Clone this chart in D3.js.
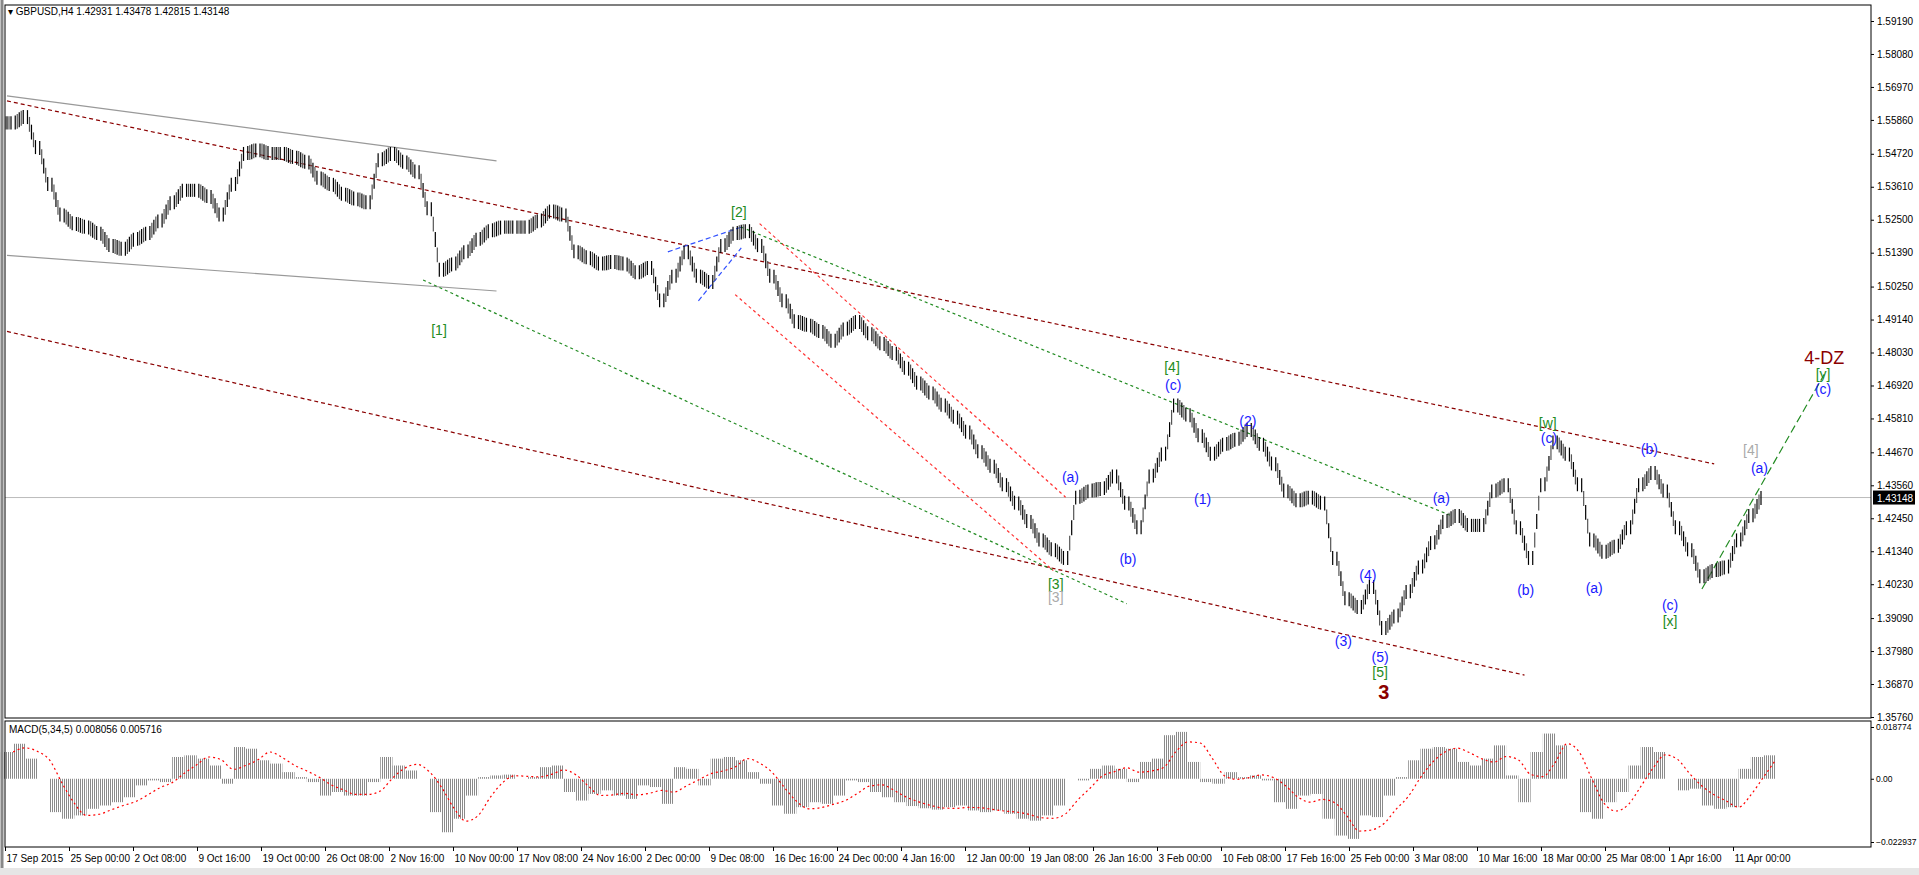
<!DOCTYPE html>
<meta charset="utf-8">
<style>
    body { margin: 0; background: #fff; }
    text { font-family: "Liberation Sans", Arial, sans-serif; }
    .axis text { font-size: 10px; fill: #000; font-family: "Liberation Sans", Arial, sans-serif; }
</style>
<body>
<script src="https://d3js.org/d3.v7.min.js"></script>
<script>
// GBPUSD H4 closes, one entry every ~6 H4 bars
var closes = [1.5576,1.5597,1.5493,1.5369,1.5266,1.5237,1.5225,1.5204,1.5163,1.5151,1.5184,1.5204,1.5246,1.5307,1.5349,1.5349,1.5328,1.5266,1.5369,1.5473,
    1.5485,1.5473,1.5473,1.5460,1.5444,1.5390,1.5369,1.5336,1.5320,1.5307,1.5452,1.5473,1.5444,1.5411,1.5287,1.5080,1.5101,1.5142,1.5184,1.5213,
    1.5225,1.5225,1.5225,1.5246,1.5279,1.5266,1.5142,1.5122,1.5101,1.5109,1.5101,1.5072,1.5089,1.4977,1.5060,1.5142,1.5060,1.5039,1.5163,1.5204,
    1.5213,1.5163,1.5060,1.4977,1.4907,1.4895,1.4874,1.4841,1.4882,1.4907,1.4866,1.4833,1.4800,1.4750,1.4700,1.4667,1.4626,1.4585,1.4535,1.4469,
    1.4420,1.4358,1.4296,1.4234,1.4172,1.4139,1.4110,1.4316,1.4337,1.4345,1.4387,1.4296,1.4213,1.4387,1.4461,1.4626,1.4593,1.4523,1.4461,1.4494,
    1.4511,1.4544,1.4494,1.4428,1.4337,1.4304,1.4316,1.4296,1.4110,1.3974,1.3945,1.4015,1.3874,1.3916,1.3998,1.4081,1.4163,1.4234,1.4254,1.4221,
    1.4221,1.4337,1.4358,1.4213,1.4110,1.4358,1.4502,1.4461,1.4358,1.4172,1.4131,1.4151,1.4213,1.4358,1.4399,1.4337,1.4213,1.4139,1.4048,1.4069,
    1.4081,1.4172,1.4254,1.4315];
var macd = [0.0097,0.0127,0.0073,0,-0.0121,-0.0145,-0.0133,-0.0109,-0.0097,-0.0085,-0.0067,-0.0024,-0.0006,-0.0012,0.0079,0.0085,0.0073,0.0048,-0.0018,0.0115,
    0.0109,0.0067,0.0055,0.0024,0.0006,-0.0012,-0.0061,-0.0048,-0.0061,-0.0061,-0.0012,0.0079,0.0048,0.0030,0,-0.0121,-0.0194,-0.0145,-0.0061,0.0006,
    0.0012,0.0015,0,0.0006,0.0042,0.0048,-0.0048,-0.0079,-0.0055,-0.0042,-0.0061,-0.0073,-0.0024,-0.0030,-0.0091,0.0042,0.0036,-0.0024,0.0073,0.0079,
    0.0067,0.0024,-0.0018,-0.0097,-0.0127,-0.0103,-0.0085,-0.0091,-0.0061,-0.0006,-0.0012,-0.0048,-0.0067,-0.0085,-0.0099,-0.0107,-0.0112,-0.0103,
    -0.0097,-0.0115,-0.0121,-0.0115,-0.0127,-0.0145,-0.0152,-0.0133,-0.0097,0,-0.0006,0.0036,0.0048,0.0036,-0.0012,0.0061,0.0073,0.0158,0.0170,0.0061,
    -0.0012,-0.0018,0.0024,0.0006,0.0012,-0.0006,-0.0085,-0.0109,-0.0061,-0.0055,-0.0145,-0.0206,-0.0218,-0.0133,-0.0139,-0.0061,0.0006,0.0067,0.0109,0.0115,
    0.0109,0.0061,0.0048,0.0073,0.0121,0.0012,-0.0085,0.0097,0.0164,0.0121,0,-0.0121,-0.0145,-0.0085,-0.0048,0.0048,0.0115,0.0097,0,-0.0042,
    -0.0036,-0.0097,-0.0109,-0.0103,0.0036,0.0079,0.0085];
var priceTicks = [1.59190,1.58080,1.56970,1.55860,1.54720,1.53610,1.52500,1.51390,1.50250,1.49140,1.48030,1.46920,1.45810,1.44670,1.43560,1.42450,1.41340,1.40230,1.39090,1.37980,1.36870,1.35760];
var timeLabels = ["17 Sep 2015","25 Sep 00:00","2 Oct 08:00","9 Oct 16:00","19 Oct 00:00","26 Oct 08:00","2 Nov 16:00","10 Nov 00:00","17 Nov 08:00","24 Nov 16:00","2 Dec 00:00","9 Dec 08:00","16 Dec 16:00","24 Dec 00:00","4 Jan 16:00","12 Jan 00:00","19 Jan 08:00","26 Jan 16:00","3 Feb 00:00","10 Feb 08:00","17 Feb 16:00","25 Feb 00:00","3 Mar 08:00","10 Mar 16:00","18 Mar 00:00","25 Mar 08:00","1 Apr 16:00","11 Apr 00:00"];
var lastPrice = 1.43148;
// trendlines: [i0, p0, i1, p1]
var lines = [
    { pts: [0, 1.5667, 40, 1.5448], color: "#999", dash: null },
    { pts: [0, 1.5130, 40, 1.5010], color: "#999", dash: null },
    { pts: [0, 1.5650, 139.5, 1.4428], color: "#8b0000", dash: "4,3" },
    { pts: [0, 1.4874, 124, 1.3717], color: "#8b0000", dash: "4,3" },
    { pts: [34, 1.5047, 91.5, 1.3957], color: "#228b22", dash: "3,3" },
    { pts: [60, 1.5225, 118, 1.4254], color: "#228b22", dash: "3,3" },
    { pts: [61.5, 1.5237, 86.5, 1.4316], color: "#ff3030", dash: "3,3" },
    { pts: [59.5, 1.4998, 85.5, 1.4069], color: "#ff3030", dash: "3,3" },
    { pts: [54, 1.5142, 60, 1.5225], color: "#3050ff", dash: "5,3" },
    { pts: [56.5, 1.4977, 60, 1.5155], color: "#3050ff", dash: "5,3" },
    { pts: [138.5, 1.4007, 148.5, 1.4730], color: "#228b22", dash: "8,4" }
];
// wave labels: [text, index, price, color, size]
var waves = [
    ["[1]", 35.3, 1.4874, "#228b22"], ["[2]", 59.8, 1.5270, "#228b22"], ["[3]", 85.7, 1.4019, "#228b22"], ["[3]", 85.7, 1.3974, "#aaa"],
    ["[4]", 95.2, 1.4750, "#228b22"], ["(c)", 95.3, 1.4688, "#1a1aff"], ["(a)", 86.9, 1.4378, "#1a1aff"], ["(b)", 91.6, 1.4102, "#1a1aff"],
    ["(1)", 97.7, 1.4304, "#1a1aff"], ["(2)", 101.4, 1.4568, "#1a1aff"], ["(3)", 109.2, 1.3829, "#1a1aff"], ["(4)", 111.2, 1.4048, "#1a1aff"],
    ["(5)", 112.2, 1.3775, "#1a1aff"], ["[5]", 112.2, 1.3722, "#228b22"], ["3", 112.5, 1.3656, "#8b0000", 20],
    ["(a)", 117.2, 1.4308, "#1a1aff"], ["(b)", 124.1, 1.3998, "#1a1aff"], ["[w]", 125.9, 1.4560, "#228b22"], ["(c)", 126, 1.4511, "#1a1aff"],
    ["(a)", 129.7, 1.4007, "#1a1aff"], ["(b)", 134.2, 1.4473, "#1a1aff"], ["[4]", 142.5, 1.4469, "#aaa"], ["(a)", 143.2, 1.4411, "#1a1aff"],
    ["(c)", 135.9, 1.3949, "#1a1aff"], ["[x]", 135.9, 1.3895, "#228b22"], ["4-DZ", 148.5, 1.4779, "#8b0000", 18],
    ["[y]", 148.4, 1.4725, "#228b22"], ["(c)", 148.4, 1.4676, "#1a1aff"]
];

var W = 1919, H = 875,
    left = 5, right = 1871,
    mainTop = 5, mainBot = 718,
    macdTop = 721, macdBot = 847;

var svg = d3.select("body").append("svg").attr("width", W).attr("height", H);
svg.append("rect").attr("width", W).attr("height", H).attr("fill", "#fff");

var x = d3.scaleLinear().domain([0, 143]).range([7, 1757]);
var y = d3.scaleLinear().domain([1.35760, 1.59190]).range([717, 21]);
var ym = d3.scaleLinear().domain([-0.022937, 0.018774]).range([842, 727]);

var defs = svg.append("defs");
defs.append("clipPath").attr("id", "cmain").append("rect")
    .attr("x", left).attr("y", mainTop).attr("width", right - left).attr("height", mainBot - mainTop);
var pat = defs.append("pattern").attr("id", "hatch").attr("patternUnits", "userSpaceOnUse")
    .attr("width", 2).attr("height", 4);
pat.append("rect").attr("width", 1).attr("height", 4).attr("fill", "#8a8a8a");

var main = svg.append("g").attr("clip-path", "url(#cmain)");

// current price line
main.append("line").attr("x1", left).attr("x2", right)
    .attr("y1", y(lastPrice)).attr("y2", y(lastPrice)).attr("stroke", "#bbb");

// trend lines
main.selectAll("line.trend").data(lines).enter().append("line")
    .attr("class", "trend")
    .attr("x1", function(d) { return x(d.pts[0]); })
    .attr("y1", function(d) { return y(d.pts[1]); })
    .attr("x2", function(d) { return x(d.pts[2]); })
    .attr("y2", function(d) { return y(d.pts[3]); })
    .attr("stroke", function(d) { return d.color; })
    .attr("stroke-width", 1.2)
    .attr("stroke-dasharray", function(d) { return d.dash; });

// bars: each entry spans from the previous close to this close
var bars = main.selectAll("g.bar").data(closes).enter().append("g").attr("class", "bar");
function hi(d, i) { return Math.max(d, i ? closes[i - 1] : d) + 0.0022; }
function lo(d, i) { return Math.min(d, i ? closes[i - 1] : d) - 0.0022; }
bars.each(function(d, i) {
    var g = d3.select(this), cx = x(i);
    for (var k = -4; k <= 4; k += 2) {
        var t = (k + 4) / 8, prev = i ? closes[i - 1] : d;
        var mid = prev + (d - prev) * t;
        var h = Math.min(hi(d, i), mid + 0.0025), l = Math.max(lo(d, i), mid - 0.0025);
        g.append("line").attr("x1", cx + k).attr("x2", cx + k)
            .attr("y1", y(h)).attr("y2", y(l))
            .attr("stroke", k % 4 ? "#555" : "#000").attr("stroke-width", 1.2);
    }
});

// wave labels
main.selectAll("text.wave").data(waves).enter().append("text")
    .attr("x", function(d) { return x(d[1]); })
    .attr("y", function(d) { return y(d[2]); })
    .attr("text-anchor", "middle").attr("dominant-baseline", "middle")
    .style("font-size", function(d) { return (d[4] || 14) + "px"; })
    .style("font-weight", function(d) { return d[4] === 20 ? "bold" : null; })
    .attr("fill", function(d) { return d[3]; })
    .text(function(d) { return d[0]; });

// MACD
var step = x(1) - x(0);
svg.selectAll("rect.hist").data(macd).enter().append("rect")
    .attr("x", function(d, i) { return x(i) - step / 2; })
    .attr("width", step)
    .attr("y", function(d) { return Math.min(ym(d), ym(0)); })
    .attr("height", function(d) { return Math.abs(ym(d) - ym(0)); })
    .attr("fill", "url(#hatch)");
var signal = macd.map(function(d, i) {
    return d3.mean(macd.slice(Math.max(0, i - 2), i + 1));
});
svg.append("path").datum(signal)
    .attr("d", d3.line().x(function(d, i) { return x(i) + step / 2; }).y(function(d) { return ym(d); }).curve(d3.curveMonotoneX))
    .attr("fill", "none").attr("stroke", "#f00").attr("stroke-width", 1.2).attr("stroke-dasharray", "2,3");

// frames
svg.append("rect").attr("x", left).attr("y", mainTop).attr("width", right - left).attr("height", mainBot - mainTop)
    .attr("fill", "none").attr("stroke", "#000");
svg.append("rect").attr("x", left).attr("y", macdTop).attr("width", right - left).attr("height", macdBot - macdTop)
    .attr("fill", "none").attr("stroke", "#000");
svg.append("line").attr("x1", 2).attr("x2", 2).attr("y1", 0).attr("y2", 868).attr("stroke", "#888").attr("stroke-width", 3);

// price axis
var pa = svg.append("g").attr("class", "axis").attr("transform", "translate(" + right + ",0)")
    .call(d3.axisRight(y).tickValues(priceTicks).tickFormat(d3.format(".5f")).tickSize(3).tickPadding(3));
pa.select(".domain").remove();
var lp = svg.append("g").attr("transform", "translate(" + right + "," + y(lastPrice) + ")");
lp.append("rect").attr("x", 2).attr("y", -7).attr("width", 42).attr("height", 14).attr("fill", "#000");
lp.append("text").attr("x", 6).attr("y", 4).attr("fill", "#fff").style("font-size", "10px").text(d3.format(".5f")(lastPrice));

var ma = svg.append("g").attr("class", "axis").attr("transform", "translate(" + right + ",0)")
    .call(d3.axisRight(ym).tickValues([0.018774, 0, -0.022937])
        .tickFormat(function(d) { return d === 0 ? "0.00" : d3.format(".6f")(d); }).tickSize(3).tickPadding(2));
ma.select(".domain").remove();
ma.selectAll("text").style("font-size", "8.5px");

// time axis
var tx = d3.scalePoint().domain(timeLabels).range([5, 5 + 64 * 27]);
var ta = svg.append("g").attr("class", "axis").attr("transform", "translate(0," + macdBot + ")")
    .call(d3.axisBottom(tx).tickSize(4).tickPadding(4));
ta.select(".domain").remove();
ta.selectAll("text").attr("text-anchor", "start").attr("dx", 1);
svg.append("rect").attr("x", 0).attr("y", 868).attr("width", W).attr("height", 7).attr("fill", "#e6e6e6");

// titles
svg.append("text").attr("x", 8).attr("y", 15).style("font-size", "10px")
    .text("\u25BE GBPUSD,H4  1.42931 1.43478 1.42815 1.43148");
svg.append("text").attr("x", 9).attr("y", 733).style("font-size", "10px")
    .text("MACD(5,34,5) 0.008056 0.005716");
</script>
</body>
